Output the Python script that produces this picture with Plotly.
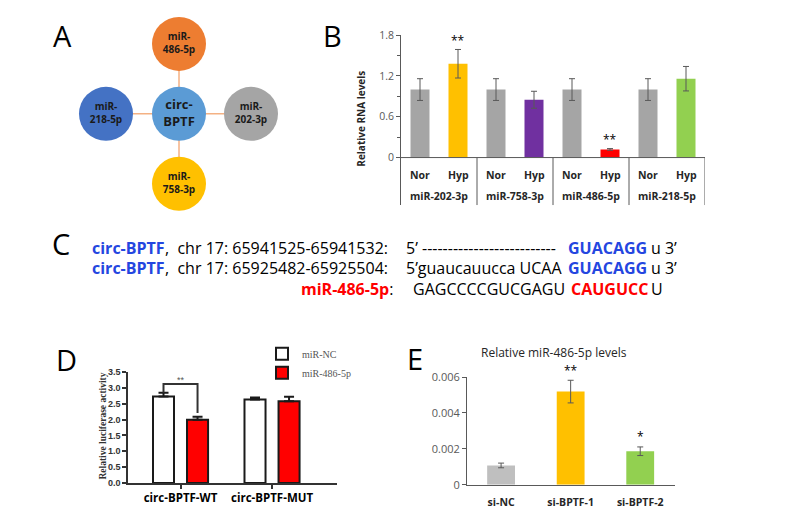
import plotly.graph_objects as go

W, H = 785, 520


def px(x):
    return x / W


def py(y):
    return 1 - y / H


FONT = "Open Sans"

# ---------------- Panel A : network diagram ----------------
a_labels = ["circ-<br>BPTF", "miR-<br>486-5p", "miR-<br>202-3p", "miR-<br>758-3p", "miR-<br>218-5p"]
a_colors = ["#5B9BD5", "#ED7D31", "#A5A5A5", "#FFC000", "#4472C4"]
a_text_sizes = [13, 10, 10, 10, 10]
a_node_x = [179, 179, 251, 179, 106]
a_node_y = [109, 37, 109, 181, 109]

# ---------------- Panel B ----------------
b_groups = ["miR-202-3p", "miR-758-3p", "miR-486-5p", "miR-218-5p"]
b_conditions = ["Nor", "Hyp"]
b_nor = [1.0, 1.0, 1.0, 1.0]
b_nor_err = [0.16, 0.16, 0.16, 0.16]
b_hyp = [1.38, 0.85, 0.12, 1.16]
b_hyp_err = [0.21, 0.125, 0.012, 0.18]
b_hyp_colors = ["#FFC000", "#7030A0", "#FF0000", "#92D050"]
b_nor_color = "#A5A5A5"
b_sig = ["**", "", "**", ""]
b_yticks = [0, 0.6, 1.2, 1.8]
b_yticklabels = ["0", "0.6", "1.2", "1.8"]

# ---------------- Panel C : sequences ----------------
c_name = "circ-BPTF"
c_loc1 = "chr 17: 65941525-65941532:"
c_loc2 = "chr 17: 65925482-65925504:"
c_seq1 = "5’ --------------------------"
c_seq2 = "5’guaucauucca UCAA"
c_seed = "GUACAGG"
c_tail = "u 3’"
c_mir = "miR-486-5p"
c_mir_seq = "GAGCCCCGUCGAGU"
c_mir_seed = "CAUGUCC"
c_mir_tail = "U"

# ---------------- Panel D ----------------
d_categories = ["circ-BPTF-WT", "circ-BPTF-MUT"]
d_series = ["miR-NC", "miR-486-5p"]
d_nc = [2.73, 2.64]
d_nc_err = [0.12, 0.06]
d_mir = [2.00, 2.58]
d_mir_err = [0.09, 0.14]
d_yticks = [0, 0.5, 1.0, 1.5, 2.0, 2.5, 3.0, 3.5]

# ---------------- Panel E ----------------
e_categories = ["si-NC", "si-BPTF-1", "si-BPTF-2"]
e_values = [0.00108, 0.00519, 0.00187]
e_err = [0.00013, 0.00063, 0.00024]
e_colors = ["#BFBFBF", "#FFC000", "#92D050"]
e_sig = ["", "**", "*"]
e_yticks = [0, 0.002, 0.004, 0.006]
e_yticklabels = ["0", "0.002", "0.004", "0.006"]

fig = go.Figure()

# ---- A: edges then nodes
edge_x, edge_y = [], []
for i in range(1, len(a_node_x)):
    edge_x += [a_node_x[0], a_node_x[i], None]
    edge_y += [a_node_y[0], a_node_y[i], None]
fig.add_trace(go.Scatter(x=edge_x, y=edge_y, mode="lines",
                         line=dict(color="#F4B183", width=1.5),
                         xaxis="x4", yaxis="y4", showlegend=False, hoverinfo="skip"))
fig.add_trace(go.Scatter(x=a_node_x, y=a_node_y, mode="markers+text",
                         marker=dict(size=54, color=a_colors, line=dict(width=0)),
                         text=["<b>%s</b>" % t for t in a_labels],
                         textposition="middle center",
                         textfont=dict(family=FONT, size=a_text_sizes, color="#1a1a1a"),
                         xaxis="x4", yaxis="y4", showlegend=False, hoverinfo="skip"))

# ---- B bars
b_nor_x = [2 * i for i in range(len(b_groups))]
b_hyp_x = [2 * i + 1 for i in range(len(b_groups))]
fig.add_trace(go.Bar(x=b_nor_x, y=b_nor, width=0.5, marker=dict(color=b_nor_color, line=dict(width=0)),
                     error_y=dict(type="data", array=b_nor_err, color="#595959", thickness=1, width=3),
                     xaxis="x", yaxis="y", showlegend=False))
fig.add_trace(go.Bar(x=b_hyp_x, y=b_hyp, width=0.5, marker=dict(color=b_hyp_colors, line=dict(width=0)),
                     error_y=dict(type="data", array=b_hyp_err, color="#595959", thickness=1, width=3),
                     xaxis="x", yaxis="y", showlegend=False))

# ---- D bars
d_off = 0.186
d_w = 0.23
fig.add_trace(go.Bar(x=[0, 1], y=d_nc, name=d_series[0], width=d_w, offset=-d_off - d_w / 2,
                     marker=dict(color="white", line=dict(color="#1a1a1a", width=2)),
                     error_y=dict(type="data", symmetric=False, array=d_nc_err, arrayminus=[0, 0],
                                  color="#1a1a1a", thickness=2, width=5),
                     xaxis="x2", yaxis="y2", showlegend=True))
fig.add_trace(go.Bar(x=[0, 1], y=d_mir, name=d_series[1], width=d_w, offset=d_off - d_w / 2,
                     marker=dict(color="#FF0000", line=dict(color="#1a1a1a", width=2)),
                     error_y=dict(type="data", symmetric=False, array=d_mir_err, arrayminus=[0, 0],
                                  color="#1a1a1a", thickness=2, width=5),
                     xaxis="x2", yaxis="y2", showlegend=True))
# significance bracket for WT
br_top = 3.13
fig.add_trace(go.Scatter(x=[-d_off, -d_off, d_off, d_off],
                         y=[d_nc[0] + d_nc_err[0], br_top, br_top, d_mir[0] + d_mir_err[0] + 0.12],
                         mode="lines", line=dict(color="#333333", width=2),
                         xaxis="x2", yaxis="y2", showlegend=False, hoverinfo="skip"))

# ---- E bars
fig.add_trace(go.Bar(x=list(range(len(e_categories))), y=e_values, width=0.4,
                     marker=dict(color=e_colors, line=dict(width=0)),
                     error_y=dict(type="data", array=e_err, color="#595959", thickness=1, width=3),
                     xaxis="x3", yaxis="y3", showlegend=False))

annotations = []
shapes = []


def note(text, x, y, size, color="black", family=FONT, xanchor="center", angle=0,
         xref="paper", yref="paper", yshift=0):
    annotations.append(dict(text=text, x=x, y=y, xref=xref, yref=yref, showarrow=False,
                            xanchor=xanchor, yanchor="middle", textangle=angle, borderpad=0,
                            yshift=yshift, font=dict(family=family, size=size, color=color)))


# Panel letters
for letter, (lx, ly) in zip("ABCDE", [(62, 28), (332, 28), (61, 243), (66, 362), (415, 361)]):
    note(letter, px(lx), py(ly), 29)

# ---- B decorations: table lines & labels
for xb in [1.5, 3.5, 5.5, 7.5]:
    shapes.append(dict(type="line", xref="x", yref="y", x0=xb, x1=xb, y0=0, y1=-0.7,
                       line=dict(color="#595959", width=1)))
shapes.append(dict(type="line", xref="x", yref="y", x0=-0.5, x1=7.5, y0=0, y1=0,
                   line=dict(color="#595959", width=1)))
for i, g in enumerate(b_groups):
    note("<b>%s</b>" % b_conditions[0], b_nor_x[i], -0.257, 10.5, "#262626", xref="x", yref="y")
    note("<b>%s</b>" % b_conditions[1], b_hyp_x[i], -0.257, 10.5, "#262626", xref="x", yref="y")
    note("<b>%s</b>" % g, 2 * i + 0.5, -0.571, 10.5, "#262626", xref="x", yref="y")
    if b_sig[i]:
        note(b_sig[i], b_hyp_x[i], b_hyp[i] + b_hyp_err[i], 12, "black", xref="x", yref="y", yshift=9)
note("<b>Relative RNA levels</b>", px(361), py(114), 10, "#262626", angle=-90)

# ---- C text segments
BLUE = "#2446E0"
RED = "#FF0000"


def seg(text, x, y, color="black", bold=False, anchor="left"):
    t = "<b>%s</b>" % text if bold else text
    note(t, px(x), py(y), 16, color, xanchor=anchor)


for ly, loc, sq in [(247, c_loc1, c_seq1), (268, c_loc2, c_seq2)]:
    seg(c_name, 91, ly, BLUE, True)
    seg(",\u00a0\u00a0" + loc, 164, ly)
    seg(sq, 405, ly)
    seg(c_seed, 567, ly, BLUE, True)
    seg(c_tail, 650, ly)
seg(c_mir + "</b><span style='color:black'>:</span><b>", 394, 289, RED, True, anchor="right")
seg(c_mir_seq, 412, 289)
seg(c_mir_seed, 570, 289, RED, True)
seg(c_mir_tail, 650, 289)

# ---- D decorations
note("**", 0, br_top, 9, "#555555", family="Liberation Sans", xref="x2", yref="y2", yshift=4)
note("<b>Relative luciferase activity</b>", px(103), py(431), 9.5, "#333333",
     family="Liberation Serif", angle=-90)

# ---- E decorations
note("Relative miR-486-5p levels", px(554), py(355), 12, "#262626")
for i, s in enumerate(e_sig):
    if s:
        note(s, i, e_values[i] + e_err[i], 12, "black", xref="x3", yref="y3", yshift=10)

fig.update_layout(
    width=W, height=H,
    margin=dict(l=0, r=0, t=0, b=0),
    paper_bgcolor="white", plot_bgcolor="white",
    barmode="overlay",
    font=dict(family=FONT),
    showlegend=True,
    legend=dict(x=px(262), y=py(341), xanchor="left", yanchor="top",
                bgcolor="rgba(0,0,0,0)", tracegroupgap=0,
                font=dict(family="Liberation Serif", size=10, color="#555555")),
    annotations=annotations,
    shapes=shapes,
    # B
    xaxis=dict(domain=[px(401), px(705)], range=[-0.5, 7.5], visible=False, anchor="y"),
    yaxis=dict(domain=[py(203), py(28)], range=[-0.7, 1.8], anchor="x",
               tickvals=b_yticks, ticktext=b_yticklabels, ticks="outside", ticklen=4,
               tickcolor="#595959", showline=True, linecolor="#595959", linewidth=1,
               showgrid=False, zeroline=False,
               tickfont=dict(family=FONT, size=10.5, color="#595959"),
               minor=dict(tickvals=[0.3, 0.9, 1.5], ticks="outside", ticklen=3, tickcolor="#595959")),
    # D
    xaxis2=dict(domain=[px(128), px(337)], range=[-0.574, 1.71], anchor="y2",
                tickvals=[0, 1], ticktext=d_categories, ticks="outside", ticklen=4, tickwidth=1.5,
                tickcolor="#333333", showline=True, linecolor="#333333", linewidth=1.5,
                showgrid=False, zeroline=False,
                tickfont=dict(family=FONT, size=11.5, color="black", weight="bold")),
    yaxis2=dict(domain=[py(489), py(375)], range=[0, 3.5], anchor="x2",
                tickvals=d_yticks, tickformat=".1f", ticks="outside", ticklen=4, tickwidth=1.5,
                tickcolor="#333333", showline=True, linecolor="#333333", linewidth=1.5,
                showgrid=False, zeroline=False,
                tickfont=dict(family="Liberation Sans", size=9, color="#333333", weight="bold")),
    # E
    xaxis3=dict(domain=[px(467), px(675)], range=[-0.49, 2.5], anchor="y3",
                tickvals=list(range(len(e_categories))), ticktext=e_categories, ticks="",
                ticklabelstandoff=8,
                showline=True, linecolor="#595959", linewidth=1, showgrid=False, zeroline=False,
                tickfont=dict(family=FONT, size=10.5, color="#262626", weight="bold")),
    yaxis3=dict(domain=[py(491), py(380)], range=[0, 0.006], anchor="x3",
                tickvals=e_yticks, ticktext=e_yticklabels, ticks="outside", ticklen=4,
                tickcolor="#595959", showline=True, linecolor="#595959", linewidth=1,
                showgrid=False, zeroline=False,
                tickfont=dict(family=FONT, size=11, color="#595959")),
    # A
    xaxis4=dict(domain=[0, px(300)], range=[0, 300], visible=False, anchor="y4"),
    yaxis4=dict(domain=[py(220), 1], range=[220, 0], visible=False, anchor="x4"),
)

fig.write_html("out.html", post_script="document.body.style.margin='0';",
               config={"displayModeBar": False})
